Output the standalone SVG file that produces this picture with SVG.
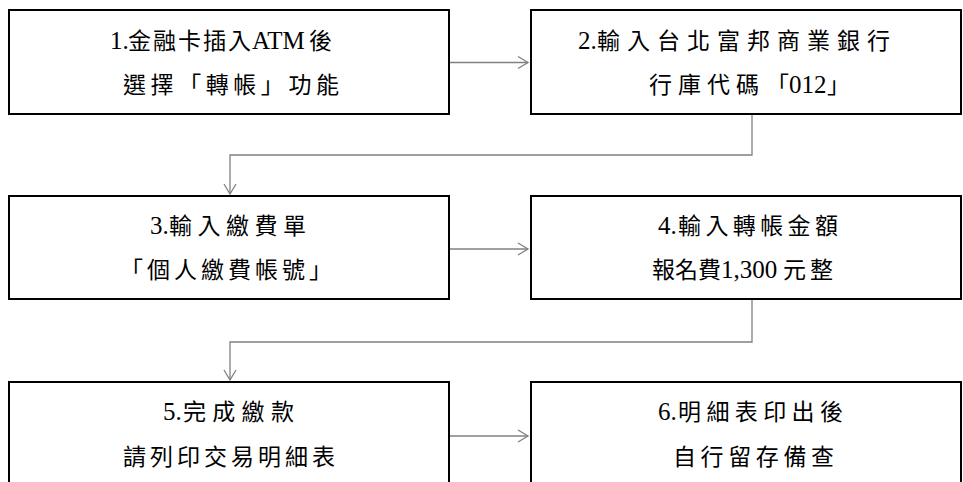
<svg xmlns="http://www.w3.org/2000/svg" width="963" height="482" viewBox="0 0 963 482">
<style>
.box{fill:#fff;stroke:#000;stroke-width:2}
.t{font-family:"Liberation Serif","Noto Sans CJK TC",serif;font-size:23px;fill:#000}
.l{font-size:25px}
.c{fill:none;stroke:#808080;stroke-width:1.3}
</style>
<defs>
<marker id="ah" markerUnits="userSpaceOnUse" markerWidth="12" markerHeight="14" refX="10" refY="6" orient="auto" overflow="visible">
<path d="M0,0 L10,6 L0,12" fill="none" stroke="#808080" stroke-width="1.3"/>
</marker>
</defs>
<rect width="963" height="482" fill="#fff"/>
<g id="connectors">
<path class="c" d="M449,62.5 H528" marker-end="url(#ah)"/>
<path class="c" d="M752,115 V155 H230 V194" marker-end="url(#ah)"/>
<path class="c" d="M449,249 H528" marker-end="url(#ah)"/>
<path class="c" d="M752,300 V342 H230 V380" marker-end="url(#ah)"/>
<path class="c" d="M449,436 H528" marker-end="url(#ah)"/>
</g>
<g id="n1">
<rect class="box" x="9" y="10" width="440" height="104"/>
<text class="t" y="49"><tspan class="l" x="110">1.</tspan><tspan x="128" letter-spacing="2">金融卡插入</tspan><tspan class="l" x="252">ATM</tspan><tspan x="309">後</tspan></text>
<text class="t" x="123" y="93" textLength="216" lengthAdjust="spacing">選擇「轉帳」功能</text>
</g>
<g id="n2">
<rect class="box" x="531" y="10" width="430" height="104"/>
<text class="t" y="49"><tspan class="l" x="578">2.</tspan><tspan x="597" letter-spacing="7">輸入台北富邦商業銀行</tspan></text>
<text class="t" y="93"><tspan x="649" letter-spacing="6">行庫代碼</tspan><tspan x="766">「</tspan><tspan class="l" x="789">012</tspan><tspan x="827">」</tspan></text>
</g>
<g id="n3">
<rect class="box" x="9" y="196" width="440" height="103"/>
<text class="t" y="234"><tspan class="l" x="150">3.</tspan><tspan x="169" letter-spacing="5.5">輸入繳費單</tspan></text>
<text class="t" x="120" y="278" textLength="212" lengthAdjust="spacing">「個人繳費帳號」</text>
</g>
<g id="n4">
<rect class="box" x="531" y="196" width="430" height="103"/>
<text class="t" y="234"><tspan class="l" x="658">4.</tspan><tspan x="678" letter-spacing="4.4">輸入轉帳金額</tspan></text>
<text class="t" y="278"><tspan x="652">報名費</tspan><tspan class="l" x="721">1,300</tspan><tspan x="783" letter-spacing="4">元整</tspan></text>
</g>
<g id="n5">
<rect class="box" x="9" y="382" width="440" height="110"/>
<text class="t" y="420"><tspan class="l" x="163">5.</tspan><tspan x="183" letter-spacing="6.3">完成繳款</tspan></text>
<text class="t" x="123" y="465" textLength="212" lengthAdjust="spacing">請列印交易明細表</text>
</g>
<g id="n6">
<rect class="box" x="531" y="382" width="430" height="110"/>
<text class="t" y="420"><tspan class="l" x="658">6.</tspan><tspan x="678" letter-spacing="5.4">明細表印出後</tspan></text>
<text class="t" x="673" y="465" textLength="161" lengthAdjust="spacing">自行留存備查</text>
</g>
</svg>
